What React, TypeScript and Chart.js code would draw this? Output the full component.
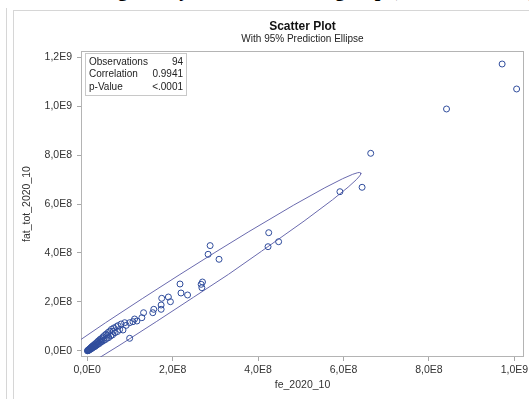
import React, { useEffect, useRef } from 'react';
import { Chart, registerables } from 'chart.js';

Chart.register(...registerables);

// ---------- data (values in millions) ----------
const UNIT = 1e6;
const pageTitle = 'Scatter diagram by economic sector group (2020, month 10)';
const chartTitle = 'Scatter Plot';
const chartSubtitle = 'With 95% Prediction Ellipse';
const xAxisTitle = 'fe_2020_10';
const yAxisTitle = 'fat_tot_2020_10';

const xTickValues = [0, 2e8, 4e8, 6e8, 8e8, 1e9];
const xTickLabels = ['0,0E0', '2,0E8', '4,0E8', '6,0E8', '8,0E8', '1,0E9'];
const yTickValues = [0, 2e8, 4e8, 6e8, 8e8, 1e9, 1.2e9];
const yTickLabels = ['0,0E0', '2,0E8', '4,0E8', '6,0E8', '8,0E8', '1,0E9', '1,2E9'];
const xRange = [-14.6e6, 1022.6e6];
const yRange = [-24.5e6, 1224.5e6];

const statLabels = ['Observations', 'Correlation', 'p-Value'];
const statValues = ['94', '0.9941', '<.0001'];

// observations: fe_2020_10 (x) and fat_tot_2020_10 (y), in millions
const feValues = [
  971.4, 1005.3, 841.2, 663.7, 643.5, 591.6, 424.9, 423.3, 448.1, 287.7, 283.0, 308.6,
  217.2, 219.5, 234.9, 266.7, 269.8, 268.4, 174.4, 190.0, 194.7, 173.0, 173.0, 155.8,
  153.5, 131.9, 127.9, 110.9, 107.0, 116.3, 99.3, 99.3,
  0.5, 1.2, 2.0, 2.8, 3.5, 4.1, 5.0, 5.8, 6.3, 7.1, 8.0, 8.9, 9.7, 10.5, 11.4, 12.2,
  13.5, 14.8, 15.6, 16.9, 18.2, 19.1, 20.4, 21.9, 23.0, 24.7, 25.6, 27.3, 28.9, 30.2,
  31.8, 33.5, 35.1, 36.9, 38.4, 40.2, 42.6, 44.1, 46.8, 48.8, 50.5, 52.8, 55.2, 56.7,
  59.4, 62.3, 65.1, 68.4, 70.8, 72.1, 75.9, 79.3, 83.7, 87.7, 91.2,
  3.0, 9.2, 17.5, 26.4, 34.0, 47.5, 61.0,
];
const fatValues = [
  1171.4, 1069.4, 987.8, 806.9, 668.2, 650.2, 482.9, 425.7, 446.1, 430.2, 394.7, 374.3,
  273.5, 236.7, 228.6, 272.2, 281.6, 258.4, 215.1, 220.4, 201.2, 187.8, 170.2, 170.2,
  156.3, 156.3, 135.9, 130.6, 119.6, 122.4, 115.5, 51.8,
  0.6, 2.0, 1.9, 4.6, 2.9, 6.4, 5.5, 8.9, 6.1, 10.8, 8.2, 13.9, 10.1, 16.8, 11.5, 19.6,
  15.2, 23.4, 16.0, 26.1, 18.8, 29.5, 22.3, 33.8, 24.6, 38.9, 28.7, 42.4, 31.2, 47.6,
  36.5, 51.3, 39.2, 57.4, 43.1, 62.9, 46.8, 68.8, 52.3, 75.6, 55.1, 80.7, 61.9, 88.3,
  66.0, 94.2, 74.6, 99.2, 79.4, 103.5, 88.0, 110.2, 85.7, 115.5, 104.6,
  3.4, 12.0, 21.6, 35.0, 44.5, 64.9, 80.5,
];

// 95% prediction ellipse outline (millions)
const ellipseFe = [
  640.4, 640.4, 638.0, 629.8, 610.8, 574.3, 507.6, 407.8, 330.9, 248.4, 162.8, 76.7,
  -124.0, -274.0, -348.8, -291.0, -151.8, 43.2, 128.8, 215.0, 299.0, 378.4, 483.5,
  556.3, 598.0, 621.6, 633.2, 638.0, 640.4,
];
const ellipseFat = [
  726.7, 722.1, 714.9, 698.9, 668.7, 617.2, 530.2, 406.9, 313.1, 218.9, 121.0, 24.6,
  -191.5, -340.2, -392.0, -294.0, -115.6, 115.8, 213.7, 310.1, 402.2, 487.2, 595.6,
  666.3, 703.3, 721.3, 727.8, 728.6, 726.7,
];

const FONT = "'Liberation Sans', Arial, Helvetica, sans-serif";

const framePlugin = {
  id: 'frameAndInset',
  beforeDatasetsDraw(chart: any) {
    const { ctx, chartArea: a } = chart;
    ctx.save();
    ctx.strokeStyle = '#b4b4b4';
    ctx.lineWidth = 1;
    ctx.strokeRect(Math.round(a.left) + 0.5, Math.round(a.top) + 0.5, Math.round(a.right - a.left) - 1, Math.round(a.bottom - a.top) - 1);
    ctx.restore();
  },
  afterDatasetsDraw(chart: any) {
    const { ctx, chartArea: a } = chart;
    const x0 = Math.round(a.left) + 4;
    const y0 = Math.round(a.top) + 2;
    const w = 101;
    const h = 42;
    ctx.save();
    ctx.fillStyle = '#ffffff';
    ctx.fillRect(x0, y0, w, h);
    ctx.strokeStyle = '#c8c8c8';
    ctx.lineWidth = 1;
    ctx.strokeRect(x0 + 0.5, y0 + 0.5, w, h);
    ctx.font = `10px ${FONT}`;
    ctx.fillStyle = '#222';
    ctx.textBaseline = 'middle';
    statLabels.forEach((lab, i) => {
      const y = y0 + 9 + i * 12.6;
      ctx.textAlign = 'left';
      ctx.fillText(lab, x0 + 4, y);
      ctx.textAlign = 'right';
      ctx.fillText(statValues[i], x0 + w - 3, y);
    });
    ctx.restore();
  },
};

export default function App() {
  const ref = useRef<HTMLCanvasElement>(null);

  useEffect(() => {
    if (!ref.current) return;
    const points = feValues.map((v, i) => ({ x: v * UNIT, y: fatValues[i] * UNIT }));
    const ellipse = ellipseFe.map((v, i) => ({ x: v * UNIT, y: ellipseFat[i] * UNIT }));
    const chart = new Chart(ref.current, {
      type: 'scatter',
      data: {
        datasets: [
          {
            label: 'Observations',
            data: points,
            pointStyle: 'circle',
            pointRadius: 3,
            pointBorderWidth: 1,
            borderColor: '#2f4c9c',
            backgroundColor: 'rgba(0,0,0,0)',
            showLine: false,
          },
          {
            label: '95% Prediction Ellipse',
            data: ellipse,
            showLine: true,
            pointRadius: 0,
            borderColor: '#6a6aae',
            borderWidth: 1,
            fill: false,
            tension: 0,
          },
        ],
      },
      options: {
        animation: false,
        responsive: false,
        layout: { padding: { top: 10, left: 13, right: 2, bottom: 0 } },
        plugins: {
          legend: { display: false },
          tooltip: { enabled: false },
          title: {
            display: true,
            text: chartTitle,
            fullSize: false,
            color: '#111',
            font: { family: FONT, size: 12, weight: 'bold' },
            padding: { top: 9, bottom: 0 },
          },
          subtitle: {
            display: true,
            text: chartSubtitle,
            fullSize: false,
            color: '#222',
            font: { family: FONT, size: 10 },
            padding: { top: 0, bottom: 5.6 },
          },
        },
        scales: {
          x: {
            type: 'linear',
            min: xRange[0],
            max: xRange[1],
            afterBuildTicks: (s: any) => {
              s.ticks = xTickValues.map((value) => ({ value }));
            },
            afterFit: (s: any) => {
              s.height = 42;
              s.paddingLeft = 0;
              s.paddingRight = 0;
            },
            ticks: {
              autoSkip: false,
              maxRotation: 0,
              padding: 3,
              color: '#333',
              font: { family: FONT, size: 10.5 },
              callback: (v: any) => {
                const i = xTickValues.indexOf(Number(v));
                return i >= 0 ? xTickLabels[i] : '';
              },
            },
            grid: { drawOnChartArea: false, drawTicks: true, tickLength: 4, color: '#a8a8a8' },
            border: { display: false },
            title: {
              display: true,
              text: xAxisTitle,
              color: '#333',
              font: { family: FONT, size: 10.5 },
              padding: { top: 0, bottom: 8 },
            },
          },
          y: {
            type: 'linear',
            min: yRange[0],
            max: yRange[1],
            afterBuildTicks: (s: any) => {
              s.ticks = yTickValues.map((value) => ({ value }));
            },
            afterFit: (s: any) => {
              s.width = 68;
              s.paddingTop = 0;
              s.paddingBottom = 0;
            },
            ticks: {
              autoSkip: false,
              padding: 5,
              color: '#333',
              font: { family: FONT, size: 10.5 },
              callback: (v: any) => {
                const i = yTickValues.indexOf(Number(v));
                return i >= 0 ? yTickLabels[i] : '';
              },
            },
            grid: { drawOnChartArea: false, drawTicks: true, tickLength: 4, color: '#a8a8a8' },
            border: { display: false },
            title: {
              display: true,
              text: yAxisTitle,
              color: '#333',
              font: { family: FONT, size: 10.5 },
              padding: { top: 8, bottom: 0 },
            },
          },
        },
      },
      plugins: [framePlugin],
    });
    return () => chart.destroy();
  }, []);

  return (
    <div
      style={{
        position: 'absolute',
        left: 0,
        top: 0,
        width: 529,
        height: 399,
        overflow: 'hidden',
        background: '#ffffff',
      }}
    >
      <div style={{ position: 'absolute', left: 0, top: 0, width: 529, height: 8, overflow: 'hidden' }}>
        <div
          style={{
            position: 'absolute',
            left: 0,
            top: -21,
            width: 560,
            textAlign: 'center',
            whiteSpace: 'nowrap',
            fontFamily: "'Liberation Serif', 'Times New Roman', serif",
            fontWeight: 'bold',
            fontSize: 20,
            lineHeight: '20px',
            color: '#000',
          }}
        >
          {pageTitle}
        </div>
      </div>
      <div style={{ position: 'absolute', left: 6, top: 8, width: 1, height: 391, background: '#d6d6d6' }} />
      <div
        style={{
          position: 'absolute',
          left: 13,
          top: 10,
          width: 600,
          height: 500,
          border: '1px solid #d6d6d6',
          boxSizing: 'border-box',
        }}
      />
      <canvas
        ref={ref}
        width={529}
        height={399}
        style={{ position: 'absolute', left: 0, top: 0, width: 529, height: 399 }}
      />
    </div>
  );
}
